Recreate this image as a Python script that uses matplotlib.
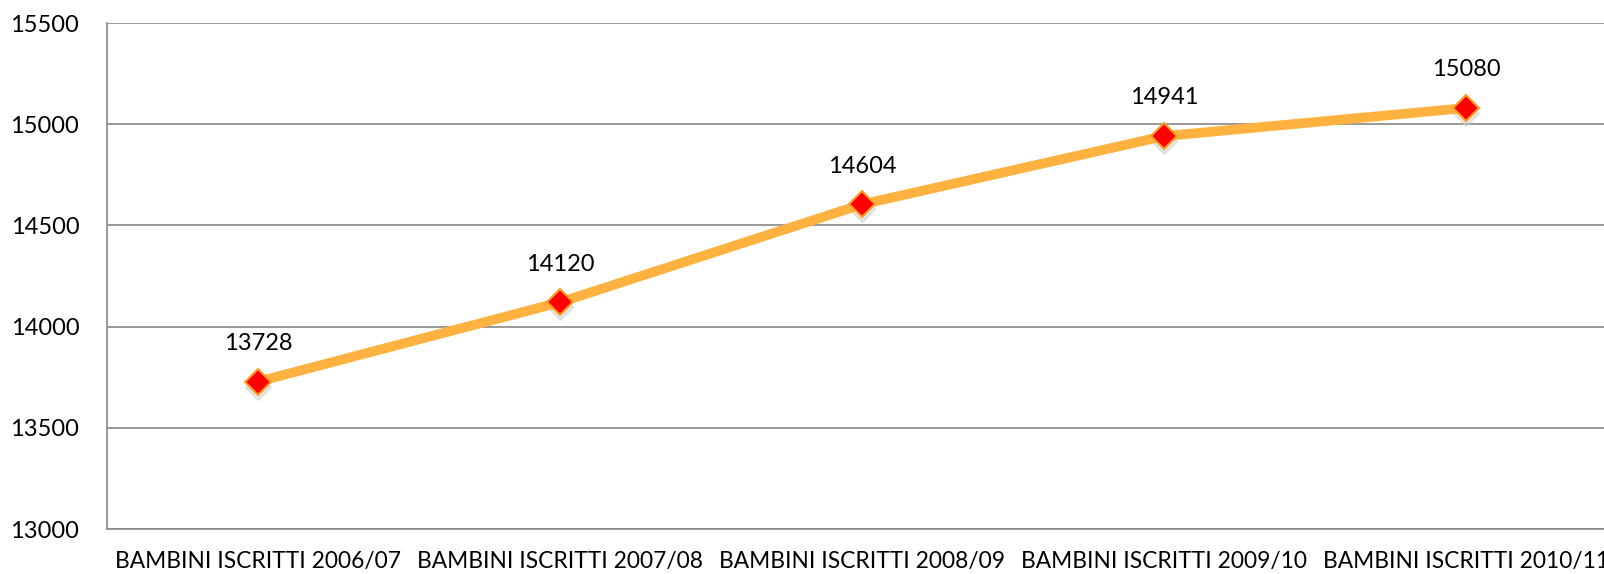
import numpy as np
import matplotlib.pyplot as plt

# data
categories = ["BAMBINI ISCRITTI 2006/07", "BAMBINI ISCRITTI 2007/08", "BAMBINI ISCRITTI 2008/09",
              "BAMBINI ISCRITTI 2009/10", "BAMBINI ISCRITTI 2010/11"]
iscritti = [13728, 14120, 14604, 14941, 15080]
y_ticks = [13000, 13500, 14000, 14500, 15000, 15500]

plt.rcParams['font.family'] = ['Lato', 'DejaVu Sans']

fig = plt.figure(figsize=(16.04, 5.74), dpi=100)
ax = fig.add_axes([107/1604, 1 - 529/574, 1510/1604, 506/574])

x = np.arange(len(categories))

# faint shadow under markers
ax.plot(x, np.array(iscritti) - 25, linestyle='none', marker='D', markersize=13,
        color='#cccccc', alpha=0.5, zorder=2)
ax.plot(x, iscritti, color='#FFB23F', linewidth=7, solid_capstyle='round', zorder=3)
ax.plot(x, iscritti, linestyle='none', marker='D', markersize=13, markerfacecolor='#FF0000',
        markeredgecolor='#FFA020', markeredgewidth=1.5, zorder=4)

for xi, v in zip(x, iscritti):
    ax.annotate(str(v), (xi, v), xytext=(0, 20), textcoords='offset points',
                ha='center', va='bottom', fontsize=17, color='black')

ax.set_xlim(-0.5, len(categories) - 0.5)
ax.set_ylim(13000, 15500)
ax.set_yticks(y_ticks)
ax.set_xticks(x)
ax.set_xticklabels(categories, fontsize=16.4)
ax.tick_params(axis='y', labelsize=17, length=0, pad=20)
ax.tick_params(axis='x', length=0, pad=16)
ax.grid(axis='y', color='#888888', linewidth=1.2)
ax.set_axisbelow(True)
for s in ['top', 'right']:
    ax.spines[s].set_visible(False)
for s in ['left', 'bottom']:
    ax.spines[s].set_color('#888888')
    ax.spines[s].set_linewidth(1.2)

fig.savefig('out.png', dpi=100)
